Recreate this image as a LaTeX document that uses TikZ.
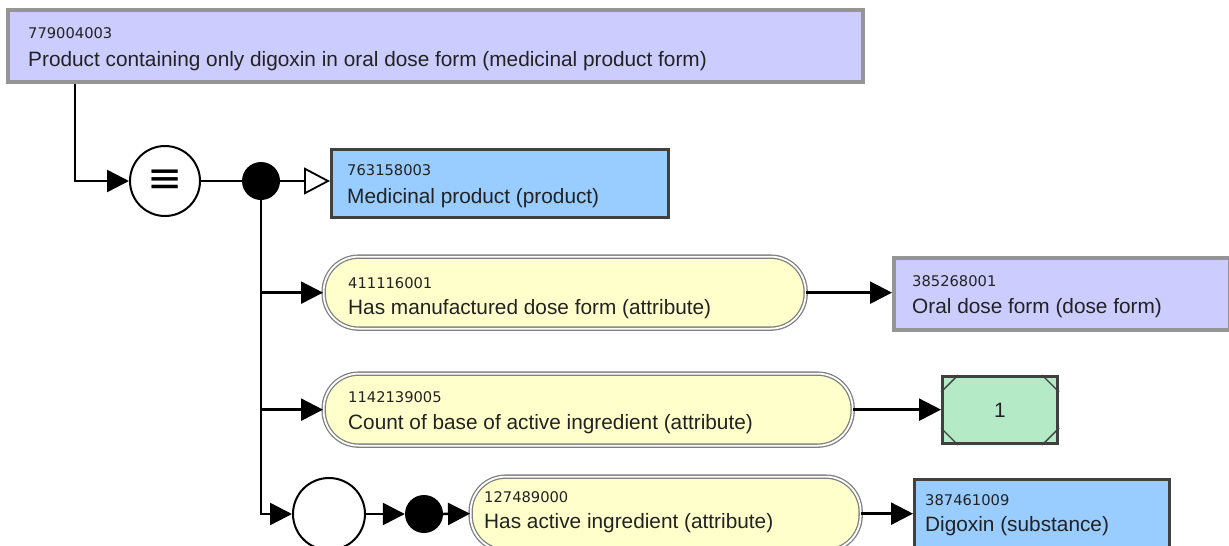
\documentclass[tikz,border=0pt]{standalone}
\usepackage{fontspec}
\setmainfont{Liberation Sans}
\newfontfamily\numfont{DejaVu Sans}
\newfontfamily\symfont{DejaVu Sans}
\usetikzlibrary{arrows.meta,calc}
\definecolor{lav}{HTML}{CCCCFF}
\definecolor{lavborder}{HTML}{959595}
\definecolor{bluefill}{HTML}{99CCFF}
\definecolor{darkborder}{HTML}{404040}
\definecolor{yel}{HTML}{FFFFCC}
\definecolor{grn}{HTML}{B4EAC6}
\definecolor{txt}{HTML}{222222}
\begin{document}
\begin{tikzpicture}[x=1pt,y=-1pt,
  lavbox/.style={draw=lavborder, line width=3.5pt, fill=lav, inner sep=0, anchor=north west},
  bluebox/.style={draw=darkborder, line width=3pt, fill=bluefill, inner sep=0, anchor=north west},
  pill/.style={draw=gray, double=white, double distance=1.8pt, line width=1.3pt, fill=yel, inner sep=0, rounded corners=35pt, anchor=north west},
  grnbox/.style={draw=darkborder, line width=3pt, fill=grn, inner sep=0, anchor=north west},
  idtxt/.style={anchor=base west, inner sep=0, text=txt, font=\numfont\fontsize{14.7}{16}\selectfont},
  nametxt/.style={anchor=base west, inner sep=0, text=txt, font=\fontsize{20.8}{24}\selectfont},
  ring/.style={circle, draw=black, line width=2pt, fill=white, inner sep=0},
  blob/.style={circle, fill=black, inner sep=0, minimum size=38pt},
  conn/.style={draw=black, line width=2.5pt, -{Triangle[length=22pt,width=22pt]}},
  openconn/.style={draw=black, line width=2pt, -{Triangle[open,length=26pt,width=27pt,line width=1.8pt,fill=white]}}
]
\useasboundingbox (0,0) rectangle (1229,546);

% boxes
\node[lavbox, minimum width=855pt, minimum height=72pt] (top) at (6,8) {};
\node[idtxt] (topid) at (28,38) {779004003};
\node[nametxt] (topname) at (28,66) {Product containing only digoxin in oral dose form (medicinal product form)};

\node[ring, minimum size=70pt] (eq) at (165,181) {\symfont\fontsize{42}{42}\selectfont ≡};
\node[blob] (dot1) at (261,181) {};

\node[bluebox, minimum width=337pt, minimum height=68pt] (med) at (330,148) {};
\node[idtxt] (medid) at (347,175) {763158003};
\node[nametxt] (medname) at (347,203) {Medicinal product (product)};

\node[pill, minimum width=482pt, minimum height=72pt] (p1) at (323,256) {};
\node[idtxt] (p1id) at (348,288) {411116001};
\node[nametxt] (p1name) at (348,314) {Has manufactured dose form (attribute)};

\node[lavbox, minimum width=336pt, minimum height=72pt] (b385) at (892,256) {};
\node[idtxt] (b385id) at (912,286) {385268001};
\node[nametxt] (b385name) at (912,313) {Oral dose form (dose form)};

\node[pill, minimum width=529pt, minimum height=72pt] (p2) at (323,373) {};
\node[idtxt] (p2id) at (348,402) {1142139005};
\node[nametxt] (p2name) at (348,429) {Count of base of active ingredient (attribute)};

\node[grnbox, minimum width=115pt, minimum height=67pt] (g) at (941,375) {};
\node[nametxt, anchor=center] (gval) at (g.center) {1};
\draw[darkborder, line width=1.4pt]
  ($(g.north west)+(0,17)$) -- ($(g.north west)+(17,0)$)
  ($(g.north east)+(-17,0)$) -- ($(g.north east)+(0,17)$)
  ($(g.south west)+(0,-17)$) -- ($(g.south west)+(17,0)$)
  ($(g.south east)+(-17,0)$) -- ($(g.south east)+(0,-17)$);

\node[ring, minimum size=72pt] (c2) at (329,514) {};
\node[blob] (dot2) at (424,514) {};

\node[pill, minimum width=390pt, minimum height=74pt] (p3) at (470,476) {};
\node[idtxt] (p3id) at (484,502) {127489000};
\node[nametxt] (p3name) at (484,528) {Has active ingredient (attribute)};

\node[bluebox, minimum width=255pt, minimum height=72pt] (b387) at (913,478) {};
\node[idtxt] (b387id) at (925,505) {387461009};
\node[nametxt] (b387name) at (925,531) {Digoxin (substance)};

% connectors
\draw[conn] ($(top.south west)+(69,0)$) |- (eq.west);
\draw[draw=black, line width=1.6pt] (eq.east) -- (dot1.west);
\draw[openconn] (dot1.east) -- (dot1.east -| med.west);
\draw[conn] (dot1.south) |- (c2.west);
\draw[conn] (dot1.south |- p1.west) -- (p1.west);
\draw[conn] (dot1.south |- p2.west) -- (p2.west);
\draw[conn] (p1.east) -- (p1.east -| b385.west);
\draw[conn] (p2.east) -- (p2.east -| g.west);
\draw[conn] (c2.east) -- (dot2.west);
\draw[conn] (dot2.east) -- (p3.west);
\draw[conn] (p3.east) -- (p3.east -| b387.west);
\end{tikzpicture}
\end{document}
